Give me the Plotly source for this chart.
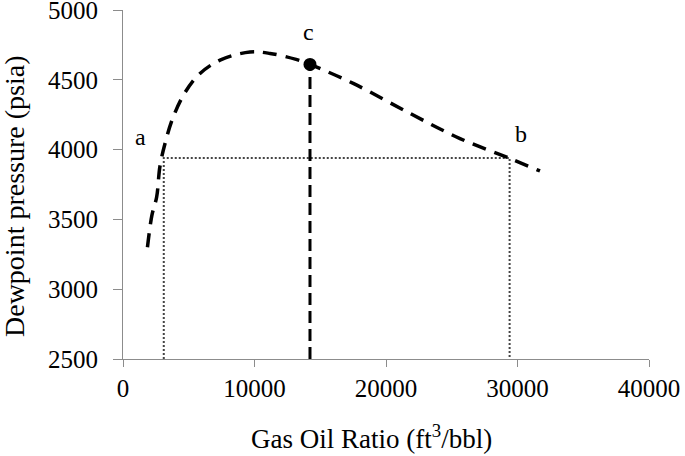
import plotly.graph_objects as go

# Dewpoint curve
gor = [1860, 2200, 2560, 2810, 3247, 3825, 4640, 5730, 7380, 9660, 11180, 13160, 14220, 17510, 21830, 25630, 29430, 31710]
dewpoint = [3300, 3530, 3660, 3880, 4062, 4235, 4397, 4534, 4641, 4699, 4689, 4646, 4610, 4474, 4259, 4079, 3936, 3847]

# Key points
point_a = (3100, 3940)
point_b = (29400, 3940)
point_c = (14220, 4610)
y_min = 2500

label_text = ["a", "b", "c"]
label_x = [1300, 30300, 14100]
label_y = [4090, 4115, 4840]

x_ticks = [0, 10000, 20000, 30000, 40000]
y_ticks = [2500, 3000, 3500, 4000, 4500, 5000]

x_title = "Gas Oil Ratio (ft<sup>3</sup>/bbl)"
y_title = "Dewpoint pressure (psia)"

FONT = "Liberation Serif, Times New Roman, serif"

fig = go.Figure()

# dotted construction lines
fig.add_trace(go.Scatter(
    x=[point_a[0], point_a[0], point_b[0], point_b[0]],
    y=[y_min, point_a[1], point_b[1], y_min],
    mode="lines", line=dict(color="#444444", width=2, dash="2px,2px"),
    hoverinfo="skip", showlegend=False))

# vertical dashed line at c
fig.add_trace(go.Scatter(
    x=[point_c[0], point_c[0]], y=[y_min, point_c[1]],
    mode="lines", line=dict(color="black", width=3, dash="12px,6px"),
    showlegend=False))

# curve
fig.add_trace(go.Scatter(
    x=gor, y=dewpoint, mode="lines",
    line=dict(color="black", width=3.5, dash="14px,9px", shape="spline", smoothing=1.0),
    showlegend=False))

# point c
fig.add_trace(go.Scatter(
    x=[point_c[0]], y=[point_c[1]], mode="markers",
    marker=dict(color="black", size=13), showlegend=False))

for t, x, y in zip(label_text, label_x, label_y):
    fig.add_annotation(x=x, y=y, text=t, showarrow=False,
                       font=dict(family=FONT, size=24, color="black"))

# axis titles
fig.add_annotation(xref="paper", yref="paper", x=(371 - 123) / 526, y=(359 - 437) / 349,
                   text=x_title, showarrow=False, xanchor="center", yanchor="middle",
                   font=dict(family=FONT, size=27, color="black"))
fig.add_annotation(xref="paper", yref="paper", x=(14 - 123) / 526, y=(359 - 197) / 349,
                   text=y_title, showarrow=False, textangle=-90,
                   xanchor="center", yanchor="middle",
                   font=dict(family=FONT, size=28, color="black"))

fig.update_layout(
    width=685, height=456,
    margin=dict(l=123, r=36, t=10, b=97),
    plot_bgcolor="white", paper_bgcolor="white",
    font=dict(family=FONT, size=25, color="black"),
    showlegend=False,
)
fig.update_xaxes(
    range=[0, 40000], tickvals=x_ticks, ticktext=[str(v) for v in x_ticks],
    showgrid=False, zeroline=False, showline=True, linecolor="#8c8c8c", linewidth=1,
    ticks="outside", ticklen=7, tickcolor="#8c8c8c", tickwidth=1,
    tickfont=dict(family=FONT, size=25, color="black"),
    ticklabeloverflow="allow", automargin=False,
)
fig.update_yaxes(
    range=[2500, 5000], tickvals=y_ticks, ticktext=[str(v) for v in y_ticks],
    showgrid=False, zeroline=False, showline=True, linecolor="#8c8c8c", linewidth=1,
    ticks="outside", ticklen=9, tickcolor="#8c8c8c", tickwidth=1,
    tickfont=dict(family=FONT, size=25, color="black"),
    ticklabeloverflow="allow", ticklabelstandoff=10, automargin=False,
)

fig.write_html("out.html")
